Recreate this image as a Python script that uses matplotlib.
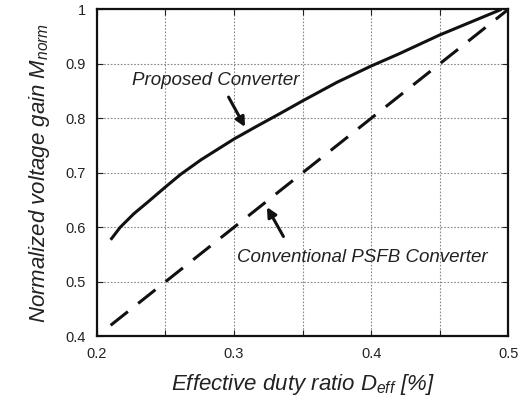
import numpy as np
import matplotlib
matplotlib.use("Agg")
import matplotlib.pyplot as plt

plt.rcParams['font.family'] = ['Liberation Sans', 'DejaVu Sans']
plt.rcParams['mathtext.fontset'] = 'custom'
plt.rcParams['mathtext.it'] = 'Liberation Sans:italic'
plt.rcParams['mathtext.rm'] = 'Liberation Sans'
plt.rcParams['mathtext.default'] = 'it'

# Proposed converter
d_prop = [0.210, 0.217, 0.227, 0.237, 0.250, 0.261, 0.276, 0.300, 0.317, 0.333,
          0.350, 0.375, 0.400, 0.420, 0.450, 0.495]
m_prop = [0.577, 0.600, 0.625, 0.646, 0.674, 0.697, 0.724, 0.762, 0.786, 0.808,
          0.832, 0.866, 0.896, 0.918, 0.953, 1.000]

# Conventional PSFB converter
d_conv = [0.21, 0.50]
m_conv = [0.42, 1.00]

x_ticks = [0.2, 0.25, 0.3, 0.35, 0.4, 0.45, 0.5]
x_labels = ['0.2', '', '0.3', '', '0.4', '', '0.5']
y_ticks = [0.4, 0.5, 0.6, 0.7, 0.8, 0.9, 1.0]
y_labels = ['0.4', '0.5', '0.6', '0.7', '0.8', '0.9', '1']

fig = plt.figure(figsize=(5.24, 4.07), dpi=100)
ax = fig.add_axes([0.185, 0.174, 0.785, 0.803])

ax.plot(d_prop, m_prop, color='#111111', lw=2.2, solid_capstyle='butt',
        solid_joinstyle='round')
ax.plot(d_conv, m_conv, color='#111111', lw=2.2, dashes=(7.2, 4.3), dash_capstyle='butt')

ax.set_xlim(0.2, 0.5)
ax.set_ylim(0.4, 1.0)
ax.set_xticks(x_ticks)
ax.set_xticklabels(x_labels)
ax.set_yticks(y_ticks)
ax.set_yticklabels(y_labels)
ax.tick_params(direction='in', length=4, width=0.8, top=True, right=True,
               labelsize=10.5, colors='#222222', pad=8)
ax.grid(True, linestyle=(0, (1.5, 1.5)), color='#888888', lw=0.8)
for s in ax.spines.values():
    s.set_linewidth(1.6)
    s.set_color('#111111')

ax.set_xlabel('Effective duty ratio $D_{eff}$ [%]', fontsize=16, style='italic',
              color='#222222', labelpad=8)
ax.set_ylabel('Normalized voltage gain $M_{norm}$', fontsize=16, style='italic',
              color='#222222', labelpad=10)

# annotations
ax.text(0.2259, 0.870, 'Proposed Converter', fontsize=13.5, style='italic',
        ha='left', va='center', color='#222222')
ax.annotate('', xy=(0.308, 0.784), xytext=(0.296, 0.839),
            arrowprops=dict(arrowstyle='-|>', color='#111111', lw=2.2,
                            mutation_scale=14, shrinkA=0, shrinkB=0))
ax.text(0.3022, 0.545, 'Conventional PSFB Converter', fontsize=13.5, style='italic',
        ha='left', va='center', color='#222222')
ax.annotate('', xy=(0.324, 0.637), xytext=(0.336, 0.583),
            arrowprops=dict(arrowstyle='-|>', color='#111111', lw=2.2,
                            mutation_scale=14, shrinkA=0, shrinkB=0))

fig.savefig('out.png', dpi=100)
